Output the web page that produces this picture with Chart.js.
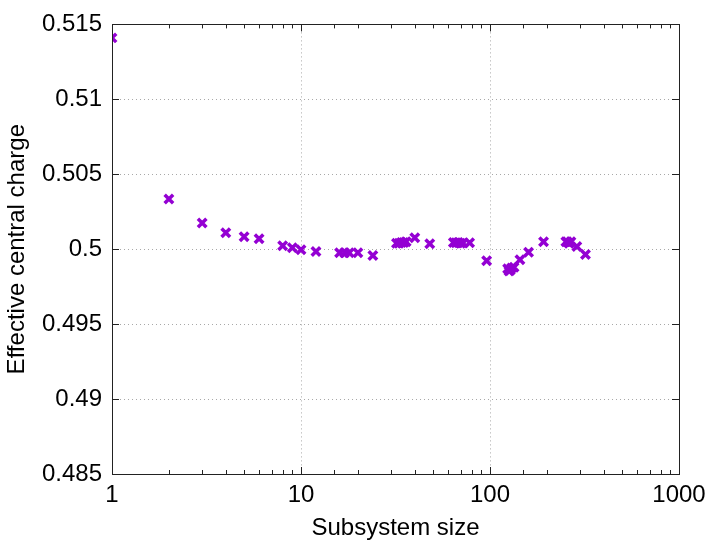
<!DOCTYPE html>
<html>
<head>
<meta charset="utf-8">
<script src="https://cdn.jsdelivr.net/npm/chart.js@4.4.1/dist/chart.umd.min.js"></script>
<style>
  html, body { margin: 0; padding: 0; background: #fff; }
  #wrap { width: 719px; height: 540px; }
</style>
</head>
<body>
<div id="wrap"><canvas id="chart" width="719" height="540"></canvas></div>
<script>
// subsystem sizes and effective central charge
const sizes = [1, 2, 3, 4, 5, 6, 8, 9, 10, 12, 16, 17, 18, 20, 24,
    32, 33, 34, 35, 36, 40, 48, 64, 66, 68, 70, 72, 78, 96,
    124, 126, 128, 130, 134, 144, 160, 192, 252, 256, 262, 268, 288, 320];
const charges = [0.5141, 0.50335, 0.50175, 0.5011, 0.50083, 0.5007, 0.50023, 0.5001, 0.49997, 0.49984, 0.49977, 0.49977, 0.49977, 0.49977, 0.49958,
    0.5004, 0.5004, 0.50045, 0.50045, 0.5005, 0.50077, 0.50037, 0.50045, 0.50043, 0.50045, 0.5004, 0.50042, 0.50043, 0.49923,
    0.4987, 0.49855, 0.4986, 0.49875, 0.4988, 0.4993, 0.4998, 0.5005, 0.5005, 0.5005, 0.5004, 0.5005, 0.50018, 0.49964];

const xTicks = [1, 10, 100, 1000];
const xTickLabels = ['1', '10', '100', '1000'];
const yTicks = [0.485, 0.49, 0.495, 0.5, 0.505, 0.51, 0.515];
const yTickLabels = ['0.485', '0.49', '0.495', '0.5', '0.505', '0.51', '0.515'];

const FONT = { family: '"Liberation Sans", Arial, Helvetica, sans-serif', size: 24 };
const isMajorX = v => xTicks.some(t => Math.abs(t - v) < 1e-9);

// gnuplot style frame + inward ticks on all four sides
const frameTicks = {
    id: 'frameTicks',
    afterDraw(chart) {
        const { ctx, chartArea: a, scales } = chart;
        ctx.save();
        ctx.strokeStyle = '#222';
        ctx.lineWidth = 1;
        ctx.beginPath();
        scales.x.ticks.forEach(t => {
            const px = Math.round(scales.x.getPixelForValue(t.value)) + 0.5;
            const len = isMajorX(t.value) ? 7 : 4;
            ctx.moveTo(px, a.bottom); ctx.lineTo(px, a.bottom - len);
            ctx.moveTo(px, a.top); ctx.lineTo(px, a.top + len);
        });
        yTicks.forEach(v => {
            const py = Math.round(scales.y.getPixelForValue(v)) + 0.5;
            ctx.moveTo(a.left, py); ctx.lineTo(a.left + 7, py);
            ctx.moveTo(a.right, py); ctx.lineTo(a.right - 7, py);
        });
        ctx.stroke();
        ctx.strokeRect(Math.round(a.left) + 0.5, Math.round(a.top) + 0.5,
            Math.round(a.right - a.left), Math.round(a.bottom - a.top));
        ctx.restore();
    }
};

new Chart(document.getElementById('chart'), {
    type: 'scatter',
    data: {
        datasets: [{
            data: sizes.map((s, i) => ({ x: s, y: charges[i] })),
            pointStyle: 'crossRot',
            pointRadius: 6,
            pointHoverRadius: 6,
            borderWidth: 3.5,
            borderColor: '#9400d3',
            backgroundColor: '#9400d3'
        }]
    },
    options: {
        responsive: false,
        animation: false,
        layout: { padding: { top: 21, right: 40, left: 0, bottom: 0 } },
        plugins: { legend: { display: false }, tooltip: { enabled: false } },
        scales: {
            x: {
                type: 'logarithmic',
                min: 1,
                max: 1000,
                afterFit: s => { s.height = 66; },
                border: { display: false, dash: [1, 3] },
                grid: {
                    drawTicks: false,
                    color: c => (c.tick && isMajorX(c.tick.value)) ? '#a8a8a8' : 'rgba(0,0,0,0)'
                },
                ticks: {
                    autoSkip: false,
                    maxRotation: 0,
                    padding: 7,
                    color: '#000',
                    font: FONT,
                    callback: v => { const i = xTicks.findIndex(t => Math.abs(t - v) < 1e-9); return i >= 0 ? xTickLabels[i] : ''; }
                },
                title: { display: true, text: 'Subsystem size', color: '#000', font: FONT, padding: { top: 0, bottom: -3 } }
            },
            y: {
                min: 0.485,
                max: 0.515,
                afterFit: s => { s.width = 112; },
                afterBuildTicks: s => { s.ticks = yTicks.map(v => ({ value: v })); },
                border: { display: false, dash: [1, 3] },
                grid: { drawTicks: false, color: '#a8a8a8' },
                ticks: {
                    padding: 10,
                    color: '#000',
                    font: FONT,
                    callback: v => { const i = yTicks.findIndex(t => Math.abs(t - v) < 1e-9); return i >= 0 ? yTickLabels[i] : ''; }
                },
                title: { display: true, text: 'Effective central charge', color: '#000', font: FONT, padding: { top: 3, bottom: 0 } }
            }
        }
    },
    plugins: [frameTicks]
});
</script>
</body>
</html>
